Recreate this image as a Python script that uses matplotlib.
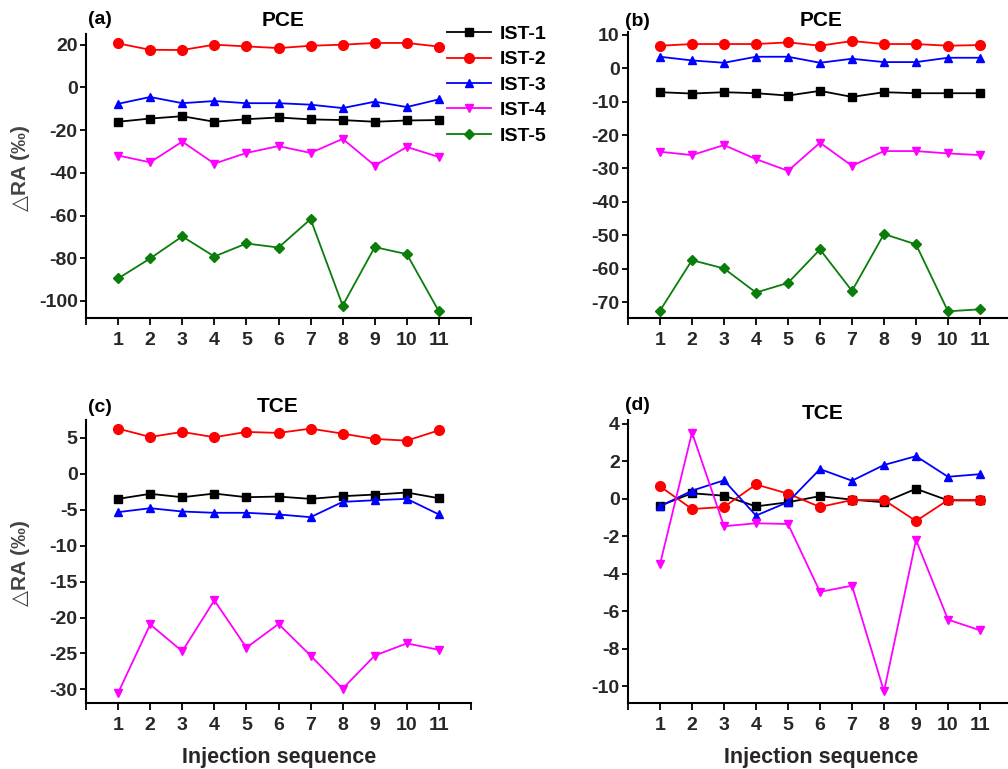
import matplotlib
matplotlib.use("Agg")
import matplotlib.pyplot as plt
import numpy as np

plt.rcParams['font.family'] = ['Liberation Sans', 'DejaVu Sans']
plt.rcParams['font.weight'] = 'bold'

x = list(range(1, 12))
series_names = ["IST-1", "IST-2", "IST-3", "IST-4", "IST-5"]

# Panel (a) PCE
a_ist1 = [-16.1, -14.6, -13.5, -16.1, -14.9, -14.1, -15.0, -15.3, -16.1, -15.5, -15.3]
a_ist2 = [20.6, 17.6, 17.5, 20.0, 19.2, 18.4, 19.5, 20.0, 20.8, 20.8, 19.1]
a_ist3 = [-7.7, -4.5, -7.4, -6.4, -7.4, -7.4, -8.1, -9.7, -6.7, -9.2, -5.6]
a_ist4 = [-31.9, -35.1, -25.4, -35.7, -30.7, -27.5, -30.7, -24.1, -36.6, -27.9, -32.6]
a_ist5 = [-89.5, -80.1, -69.8, -79.2, -73.1, -75.0, -61.7, -102.2, -74.8, -78.1, -104.9]

# Panel (b) PCE
b_ist1 = [-7.2, -7.6, -7.2, -7.5, -8.2, -6.8, -8.6, -7.2, -7.5, -7.5, -7.5]
b_ist2 = [6.7, 7.2, 7.2, 7.2, 7.7, 6.7, 8.1, 7.2, 7.2, 6.7, 6.9]
b_ist3 = [3.4, 2.3, 1.6, 3.4, 3.4, 1.6, 2.8, 1.8, 1.8, 3.1, 3.1]
b_ist4 = [-25.0, -26.0, -23.0, -27.2, -30.7, -22.3, -29.2, -24.8, -24.8, -25.5, -26.0]
b_ist5 = [-72.5, -57.4, -59.9, -67.1, -64.2, -54.2, -66.6, -49.6, -52.7, -72.7, -72.1]

# Panel (c) TCE
c_ist1 = [-3.48, -2.78, -3.25, -2.74, -3.25, -3.16, -3.48, -3.11, -2.88, -2.6, -3.39]
c_ist2 = [6.3, 5.14, 5.84, 5.1, 5.84, 5.7, 6.3, 5.6, 4.86, 4.63, 6.07]
c_ist3 = [-5.33, -4.78, -5.24, -5.42, -5.42, -5.65, -6.03, -3.9, -3.67, -3.48, -5.65]
c_ist4 = [-30.5, -20.96, -24.7, -17.6, -24.2, -20.9, -25.3, -29.9, -25.3, -23.6, -24.5]

# Panel (d) TCE
d_ist1 = [-0.37, 0.29, 0.16, -0.41, -0.19, 0.14, -0.05, -0.19, 0.53, -0.09, -0.09]
d_ist2 = [0.66, -0.55, -0.44, 0.76, 0.27, -0.44, -0.07, -0.07, -1.19, -0.07, -0.07]
d_ist3 = [-0.41, 0.43, 0.98, -0.9, -0.18, 1.58, 0.96, 1.8, 2.27, 1.17, 1.31]
d_ist4 = [-3.5, 3.53, -1.47, -1.31, -1.35, -4.97, -4.64, -10.28, -2.2, -6.45, -7.02]

styles = {
    "IST-1": dict(color="#000000", marker="s", ms=6),
    "IST-2": dict(color="#ff0000", marker="o", ms=7),
    "IST-3": dict(color="#0000ff", marker="^", ms=6),
    "IST-4": dict(color="#ff00ff", marker="v", ms=6),
    "IST-5": dict(color="#0a7d0a", marker="D", ms=5),
}

W, H = 1008, 769
fig = plt.figure(figsize=(W / 100, H / 100), dpi=100)

def rect(l, r, t, b):
    return [l / W, 1 - b / H, (r - l) / W, (b - t) / H]

tick_color = "#2a2626"

def setup(ax, ylim, yticks):
    ax.set_xlim(0, 12)
    ax.set_ylim(*ylim)
    ax.set_xticks(range(0, 13))
    ax.set_xticklabels([""] + [str(i) for i in x] + [""])
    ax.set_yticks(yticks)
    ax.set_yticklabels([str(v) for v in yticks])
    for s in ("top", "right"):
        ax.spines[s].set_visible(False)
    for s in ("left", "bottom"):
        ax.spines[s].set_linewidth(1.5)
    ax.tick_params(axis="both", direction="out", width=1.3, length=4.5,
                   labelsize=14, colors="black", labelcolor=tick_color, pad=1.5)
    ax.tick_params(axis="x", length=5, pad=5)
    for lab in ax.get_xticklabels() + ax.get_yticklabels():
        lab.set_fontweight("bold")

def draw(ax, data):
    for name, vals in data:
        st = styles[name]
        ax.plot(x, vals, color=st["color"], marker=st["marker"], ms=st["ms"],
                lw=1.3, label=name, clip_on=False)

ax_a = fig.add_axes(rect(86, 471, 34, 318))
draw(ax_a, [("IST-1", a_ist1), ("IST-2", a_ist2), ("IST-3", a_ist3),
            ("IST-4", a_ist4), ("IST-5", a_ist5)])
setup(ax_a, (-108, 25), [-100, -80, -60, -40, -20, 0, 20])

ax_b = fig.add_axes(rect(628, 1012, 32, 318))
draw(ax_b, [("IST-1", b_ist1), ("IST-2", b_ist2), ("IST-3", b_ist3),
            ("IST-4", b_ist4), ("IST-5", b_ist5)])
setup(ax_b, (-74.7, 10.8), [-70, -60, -50, -40, -30, -20, -10, 0, 10])

ax_c = fig.add_axes(rect(86, 471, 420, 703))
draw(ax_c, [("IST-1", c_ist1), ("IST-2", c_ist2), ("IST-3", c_ist3),
            ("IST-4", c_ist4)])
setup(ax_c, (-31.9, 7.5), [-30, -25, -20, -15, -10, -5, 0, 5])

ax_d = fig.add_axes(rect(628, 1012, 420, 703))
draw(ax_d, [("IST-1", d_ist1), ("IST-2", d_ist2), ("IST-3", d_ist3),
            ("IST-4", d_ist4)])
setup(ax_d, (-10.9, 4.2), [-10, -8, -6, -4, -2, 0, 2, 4])

def ftext(px, py, s, size, ha="center", **kw):
    fig.text(px / W, 1 - py / H, s, ha=ha, va="center", fontsize=size,
             fontweight="bold", **kw)

ftext(88, 20, "(a)", 14, ha="left")
ftext(283, 20, "PCE", 15)
ftext(625, 21, "(b)", 14, ha="left")
ftext(821, 20, "PCE", 15)
ftext(88, 407, "(c)", 14, ha="left")
ftext(278, 407, "TCE", 15)
ftext(625, 405, "(d)", 14, ha="left")
ftext(823, 414, "TCE", 15)

ftext(279, 757, "Injection sequence", 15.5, color=tick_color)
ftext(821, 757, "Injection sequence", 15.5, color=tick_color)

ylab = "\u25b3RA (\u2030)"
for yc in (168, 563):
    fig.text(21 / W, 1 - yc / H, ylab, rotation=90, ha="center", va="center",
             fontsize=15, fontweight="bold", color="#444444",
             family=["Liberation Sans", "DejaVu Sans"])

handles, labels = ax_a.get_legend_handles_labels()
leg = fig.legend(handles, labels, loc="upper left",
                 bbox_to_anchor=(447 / W, 1 - 25.5 / H),
                 frameon=False, handlelength=2.27,
                 handletextpad=0.46, labelspacing=0.4, borderpad=0,
                 borderaxespad=0, prop={"weight": "bold", "size": 14})

fig.savefig("out.png", dpi=100)
